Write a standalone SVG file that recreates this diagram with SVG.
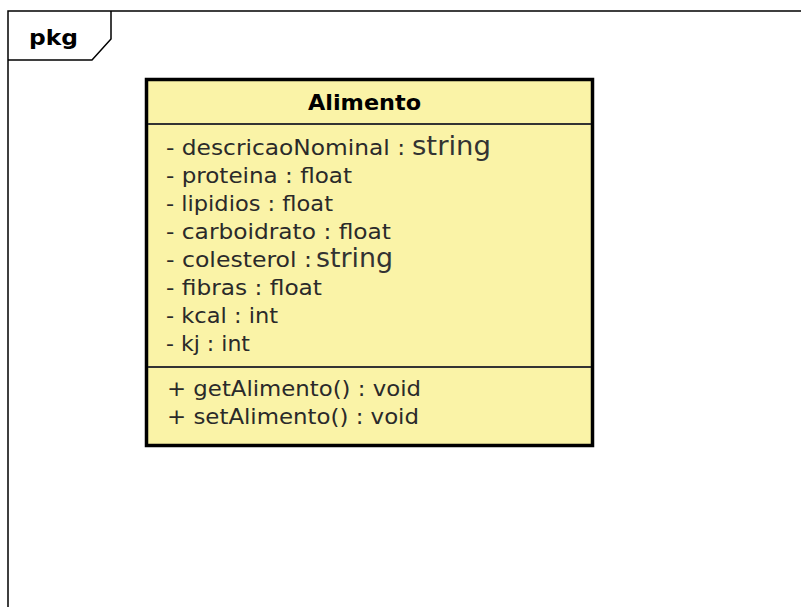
<svg xmlns="http://www.w3.org/2000/svg" width="801" height="607" viewBox="0 0 801 607">
<style>
.frame{fill:none;stroke:#000;stroke-width:1.5}
.box{fill:#FAF3A7;stroke:#000;stroke-width:3.5}
.sep{stroke:#333;stroke-width:2}
.t{font-family:"DejaVu Sans",sans-serif;font-size:21.5px;fill:#2a2a2a}
.b{font-family:"DejaVu Sans",sans-serif;font-size:21px;font-weight:bold;fill:#000}
.s{font-family:"DejaVu Sans",sans-serif;font-size:26px;fill:#333}
</style>
<rect width="801" height="607" fill="#fff"/>
<g id="package">
<path class="frame" d="M8,610 L8,11 L805,11"/>
<path class="frame" d="M8,60 L92,60 L111,39 L111,11"/>
<text class="b" x="29" y="45" textLength="49" lengthAdjust="spacingAndGlyphs">pkg</text>
</g>
<g id="Alimento">
<rect class="box" x="146.5" y="79.5" width="446" height="366"/>
<line class="sep" x1="148" y1="124" x2="591" y2="124"/>
<line class="sep" x1="148" y1="367" x2="591" y2="367"/>
<text class="b" x="308" y="110" textLength="113" lengthAdjust="spacingAndGlyphs">Alimento</text>
<text class="t" x="166" y="155" textLength="239" lengthAdjust="spacingAndGlyphs">- descricaoNominal :</text>
<text class="s" x="412" y="155" textLength="79" lengthAdjust="spacingAndGlyphs">string</text>
<text class="t" x="166" y="183" textLength="186" lengthAdjust="spacingAndGlyphs">- proteina : float</text>
<text class="t" x="166" y="211" textLength="167" lengthAdjust="spacingAndGlyphs">- lipidios : float</text>
<text class="t" x="166" y="239" textLength="225" lengthAdjust="spacingAndGlyphs">- carboidrato : float</text>
<text class="t" x="166" y="267" textLength="146" lengthAdjust="spacingAndGlyphs">- colesterol :</text>
<text class="s" x="316" y="267" textLength="77" lengthAdjust="spacingAndGlyphs">string</text>
<text class="t" x="166" y="295" textLength="156" lengthAdjust="spacingAndGlyphs">- fibras : float</text>
<text class="t" x="166" y="323" textLength="112" lengthAdjust="spacingAndGlyphs">- kcal : int</text>
<text class="t" x="166" y="351" textLength="84" lengthAdjust="spacingAndGlyphs">- kj : int</text>
<text class="t" x="167" y="396" textLength="254" lengthAdjust="spacingAndGlyphs">+ getAlimento() : void</text>
<text class="t" x="167" y="424" textLength="252" lengthAdjust="spacingAndGlyphs">+ setAlimento() : void</text>
</g>
<g id="connectors"/>
</svg>
